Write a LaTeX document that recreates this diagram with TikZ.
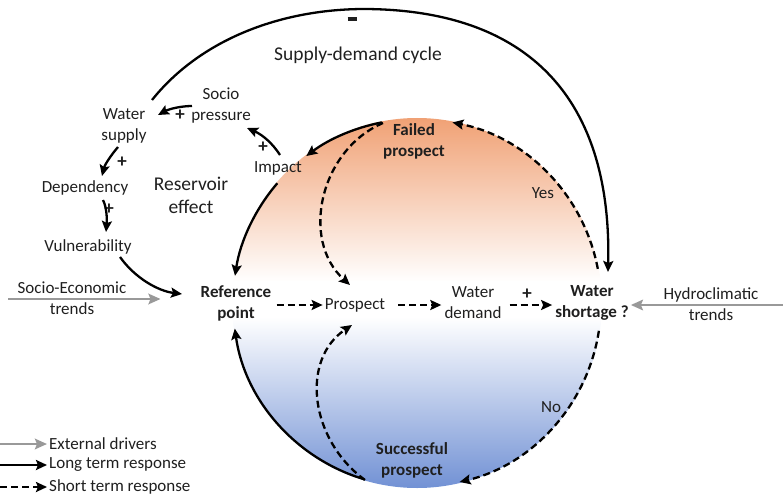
\documentclass[tikz,border=0pt]{standalone}
\usepackage{fontspec}
\setmainfont{Carlito}
\usetikzlibrary{arrows.meta,calc}
\definecolor{txt}{HTML}{1F1F1F}
\definecolor{topc}{HTML}{F0A073}
\definecolor{botc}{HTML}{7090D4}
\definecolor{drv}{HTML}{999999}
\begin{document}
\begin{tikzpicture}[x=1pt,y=-1pt,
  lbl/.style={font=\fontsize{17}{21}\selectfont, text=txt, align=center, inner sep=0pt},
  big/.style={font=\fontsize{19.5}{23}\selectfont, text=txt, align=center, inner sep=0pt},
  bld/.style={lbl, font=\fontsize{17}{21}\selectfont\bfseries},
  sgn/.style={font=\fontsize{19}{19}\selectfont\bfseries, text=txt, inner sep=0pt},
  longarr/.style={line width=2.3pt, draw=black, -{Stealth[length=11pt,width=10pt,inset=2pt]}},
  shortarr/.style={longarr, dash pattern=on 7pt off 4pt},
  drvarr/.style={line width=2.6pt, draw=drv, -{Stealth[length=12pt,width=10.5pt,inset=2pt,fill=drv]}}
]
\useasboundingbox (0,0) rectangle (783,497);

% gradient circle
\coordinate (C) at (417,303);
\begin{scope}
  \clip (C) circle (185);
  \shade[top color=topc, bottom color=white] (230,116) rectangle (604,282);
  \fill[white] (230,281) rectangle (604,318);
  \shade[top color=white, bottom color=botc] (230,317) rectangle (604,490);
\end{scope}

% nodes
\node[big] (sdc) at (358,55) {Supply-demand cycle};
\node[sgn] (minus) at (352,19) {\rule{9pt}{3.5pt}};
\node[lbl] (socio) at (221,106) {Socio\\pressure};
\node[lbl] (wsup) at (124,126) {Water\\supply};
\node[lbl] (dep) at (85,188) {Dependency};
\node[lbl] (vul) at (88,247) {Vulnerability};
\node[big] (res) at (191,195) {Reservoir\\effect};
\node[lbl] (imp) at (278,168) {Impact};
\node[bld] (failed) at (414,141) {Failed\\prospect};
\node[lbl] (yes) at (543,193) {Yes};
\node[bld] (short) at (592,303) {Water\\shortage ?};
\node[lbl] (hyd) at (711,304) {Hydroclimatic\\trends};
\node[lbl] (dem) at (473,303) {Water\\demand};
\node[lbl] (pros) at (355,305) {Prospect};
\node[bld] (ref) at (236,303) {Reference\\point};
\node[lbl] (soc) at (72,298) {Socio-Economic\\trends};
\node[bld] (succ) at (412,460) {Successful\\prospect};
\node[lbl] (no) at (551,407) {No};

% signs
\node[sgn] (p1) at (180,115) {+};
\node[sgn] (p2) at (263,147) {+};
\node[sgn] (p3) at (122,162) {+};
\node[sgn] (p4) at (109,209) {+};
\node[sgn] (p5) at (527,294) {+};

% big supply-demand arc
\coordinate (bigA) at (152,100);
\coordinate (bigT) at (365,9);
\coordinate (bigB) at (608,272);
\draw[longarr] (bigA) .. controls (200,40) and (280,9) .. (bigT)
  .. controls (530,10) and (612,100) .. (bigB);

% reservoir effect loop
\coordinate (a1s) at (192,106); \coordinate (a1e) at (158,115);
\draw[longarr] (a1s) .. controls (181,106) and (169,109) .. (a1e);
\coordinate (a2s) at (280,155); \coordinate (a2e) at (247,128);
\draw[longarr] (a2s) .. controls (273,144) and (263,135) .. (a2e);
\coordinate (a3s) at (118,147); \coordinate (a3e) at (102,176);
\draw[longarr] (a3s) .. controls (112,154) and (105,164) .. (a3e);
\coordinate (a4s) at (103,200); \coordinate (a4e) at (106,232);
\draw[longarr] (a4s) .. controls (107,208) and (107,220) .. (a4e);
\coordinate (a5s) at (120,257); \coordinate (a5e) at (182,294);
\draw[longarr] (a5s) .. controls (135,278) and (158,291) .. (a5e);

% arcs along the circle
\coordinate (c1) at ($(C)+(-101:184)$);
\draw[longarr] (c1) arc[start angle=-101, end angle=-127, radius=184];
\coordinate (c2) at ($(C)+(-139.4:184)$);
\draw[longarr] (c2) arc[start angle=-139.4, end angle=-171.5, radius=184];
\coordinate (c3) at ($(C)+(106.7:184)$);
\draw[longarr] (c3) arc[start angle=106.7, end angle=172, radius=184];
\coordinate (c4) at ($(C)+(-10.7:184)$);
\draw[shortarr] (c4) arc[start angle=-10.7, end angle=-78.9, radius=184];
\coordinate (c5) at ($(C)+(8.7:184)$);
\draw[shortarr] (c5) arc[start angle=8.7, end angle=76.6, radius=184];

% inner dashed curves to Prospect
\coordinate (d1s) at (383,123); \coordinate (d1e) at (350,285);
\draw[shortarr] (d1s) .. controls (320,150) and (300,240) .. (d1e);
\coordinate (d2s) at (365,480); \coordinate (d2e) at (352,325);
\draw[shortarr] (d2s) .. controls (310,440) and (300,360) .. (d2e);

% horizontal chain
\draw[shortarr] ([xshift=5pt]ref.east |- pros.center) -- ([xshift=-2pt]pros.west);
\draw[shortarr] ([xshift=13pt]pros.east) -- ([xshift=-3pt]dem.west |- pros.center);
\draw[shortarr] ([xshift=8pt]dem.east |- pros.center) -- ([xshift=-3pt]short.west |- pros.center);

% external drivers
\coordinate (socA) at (8,299);
\draw[drvarr] (socA) -- ([xshift=-40pt]ref.west |- socA);
\coordinate (hydA) at (783,305);
\draw[drvarr] (hydA) -- ([xshift=2pt]short.east |- hydA);

% legend
\coordinate (l1a) at (0,444); \coordinate (l1b) at (47,444);
\coordinate (l2a) at (0,465); \coordinate (l2b) at (47,465);
\coordinate (l3a) at (0,487); \coordinate (l3b) at (47,487);
\draw[drvarr] (l1a) -- (l1b);
\draw[longarr] (l2a) -- (l2b);
\draw[shortarr] (l3a) -- (l3b);
\node[lbl, anchor=west] (t1) at (49,444) {External drivers};
\node[lbl, anchor=west] (t2) at (49,465) {Long term response};
\node[lbl, anchor=west] (t3) at (49,487) {Short term response};
\end{tikzpicture}
\end{document}
